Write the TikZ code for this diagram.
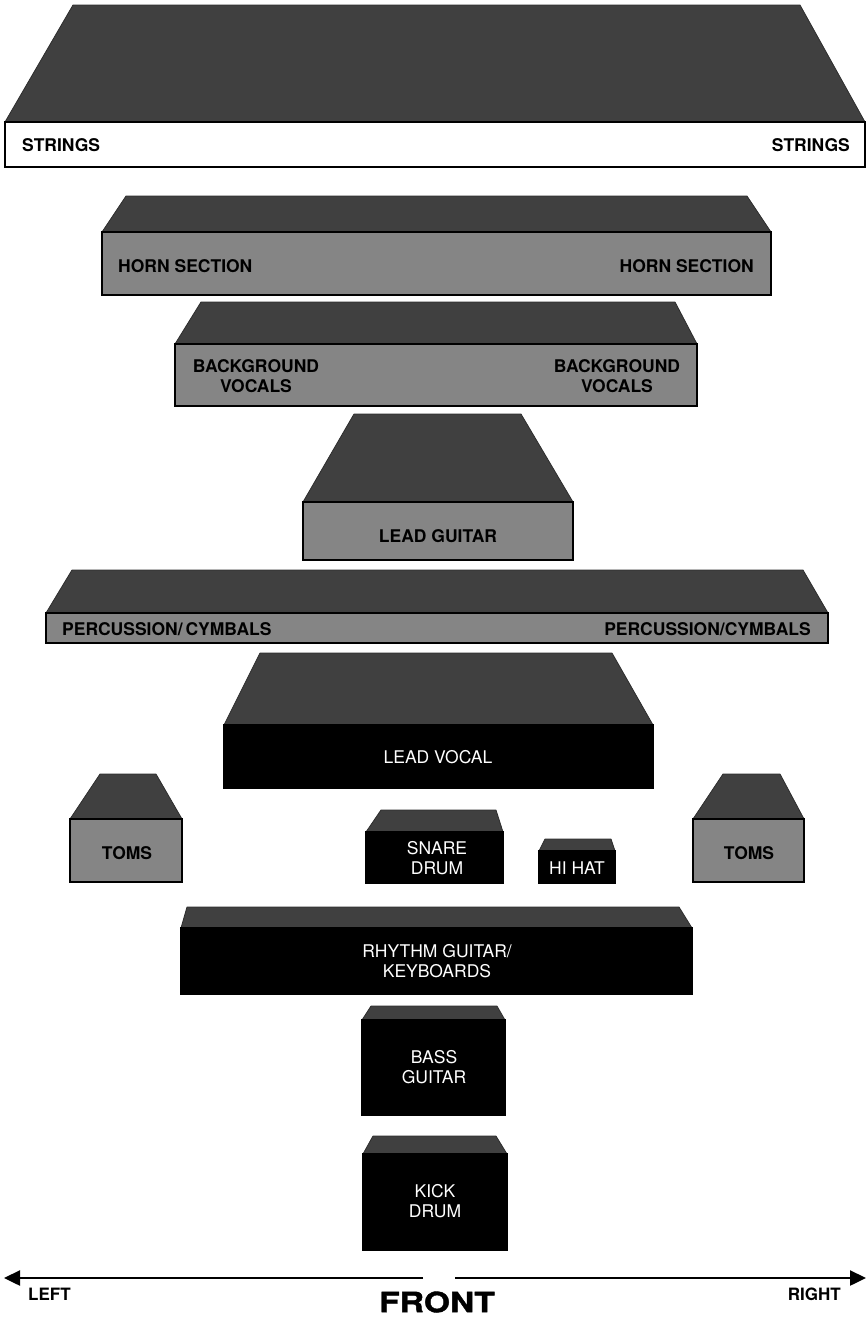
\documentclass[tikz,border=0pt]{standalone}
\usepackage{fontspec}
\setmainfont{TeX Gyre Heros}
\newfontfamily\frontfont{TeX Gyre Heros}[FakeStretch=1.2,FakeBold=1.5]
\usepackage{xcolor}
\definecolor{clTop}{HTML}{404040}
\definecolor{clMid}{HTML}{858585}
\usetikzlibrary{arrows.meta}
\tikzset{
  topface/.style={fill=clTop, draw=clTop!70!black, line width=0.8pt, line join=round},
  whitefront/.style={fill=white, draw=black, line width=1.4pt},
  grayfront/.style={fill=clMid, draw=black, line width=1.4pt},
  blackfront/.style={fill=black, draw=black, line width=1.4pt},
  darklabel/.style={font=\fontsize{17.5}{20.5}\selectfont\bfseries, text=black, inner sep=0pt, align=center},
  lightlabel/.style={font=\fontsize{17.5}{20.5}\selectfont, text=white, inner sep=0pt, align=center},
  sidelabel/.style={font=\fontsize{17}{20}\selectfont\bfseries, inner sep=0pt},
  dirarrow/.style={-{Triangle[length=16pt,width=15pt]}, line width=2.4pt},
}
% riser: top y, top left x, top right x, base y, base left x, base right x, bottom y, front style
\newcommand{\riser}[8]{%
  \filldraw[topface] (#2,#1) -- (#3,#1) -- (#6,#4) -- (#5,#4) -- cycle;
  \filldraw[#8] (#5,#4) rectangle (#6,#7);
}

\begin{document}
\begin{tikzpicture}[x=1pt,y=-1pt]
  \useasboundingbox (0,0) rectangle (867,1318);
  % back row
  \riser{5}{73}{800}{122}{5}{865}{167}{whitefront}
  \node[darklabel,anchor=west] (strL) at (22,145) {STRINGS};
  \node[darklabel,anchor=east] (strR) at (850,145) {STRINGS};
  \riser{196}{126}{747}{232}{102}{771}{295}{grayfront}
  \node[darklabel,anchor=west] (hornL) at (118,266) {HORN SECTION};
  \node[darklabel,anchor=east] (hornR) at (754,266) {HORN SECTION};
  \riser{302}{201}{675}{344}{175}{697}{406}{grayfront}
  \node[darklabel] (bgvL) at (256,376) {BACKGROUND\\VOCALS};
  \node[darklabel] (bgvR) at (617,376) {BACKGROUND\\VOCALS};
  \riser{414}{354}{521}{502}{303}{573}{560}{grayfront}
  \node[darklabel] (lgtr) at (438,536) {LEAD GUITAR};
  \riser{570}{72}{803}{613}{46}{828}{643}{grayfront}
  \node[darklabel,anchor=west] (percL) at (62,629) {PERCUSSION/\,CYMBALS};
  \node[darklabel,anchor=east] (percR) at (811,629) {PERCUSSION/CYMBALS};
  % middle
  \riser{653}{260}{612}{725}{224}{653}{788}{blackfront}
  \node[lightlabel] (lvoc) at (438,757) {LEAD VOCAL};
  \riser{774}{100}{156}{819}{70}{182}{882}{grayfront}
  \node[darklabel] (tomsL) at (127,853) {TOMS};
  \riser{774}{723}{780}{819}{693}{804}{882}{grayfront}
  \node[darklabel] (tomsR) at (749,853) {TOMS};
  \riser{810}{381}{496}{832}{366}{503}{883}{blackfront}
  \node[lightlabel] (snare) at (437,858) {SNARE\\DRUM};
  \riser{839}{545}{611}{851}{539}{615}{883}{blackfront}
  \node[lightlabel] (hihat) at (577,868) {HI HAT};
  % front
  \riser{907}{187}{679}{928}{181}{692}{994}{blackfront}
  \node[lightlabel] (rhythm) at (437,961) {RHYTHM GUITAR/\\KEYBOARDS};
  \riser{1006}{371}{497}{1020}{362}{505}{1115}{blackfront}
  \node[lightlabel] (bass) at (434,1067) {BASS\\GUITAR};
  \riser{1136}{373}{496}{1154}{363}{507}{1250}{blackfront}
  \node[lightlabel] (kick) at (435,1201) {KICK\\DRUM};
  % left / right
  \coordinate (midL) at (423,1278);
  \coordinate (midR) at (455,1278);
  \coordinate (endL) at (4,1278);
  \coordinate (endR) at (866,1278);
  \draw[dirarrow] (midL) -- (endL);
  \draw[dirarrow] (midR) -- (endR);
  \node[sidelabel,anchor=west] (left) at (28,1294) {LEFT};
  \node[sidelabel,anchor=east] (right) at (841,1294) {RIGHT};
  \node[font=\fontsize{28}{30}\frontfont\bfseries, inner sep=0pt] (front) at (437,1302) {FRONT};
\end{tikzpicture}
\end{document}
